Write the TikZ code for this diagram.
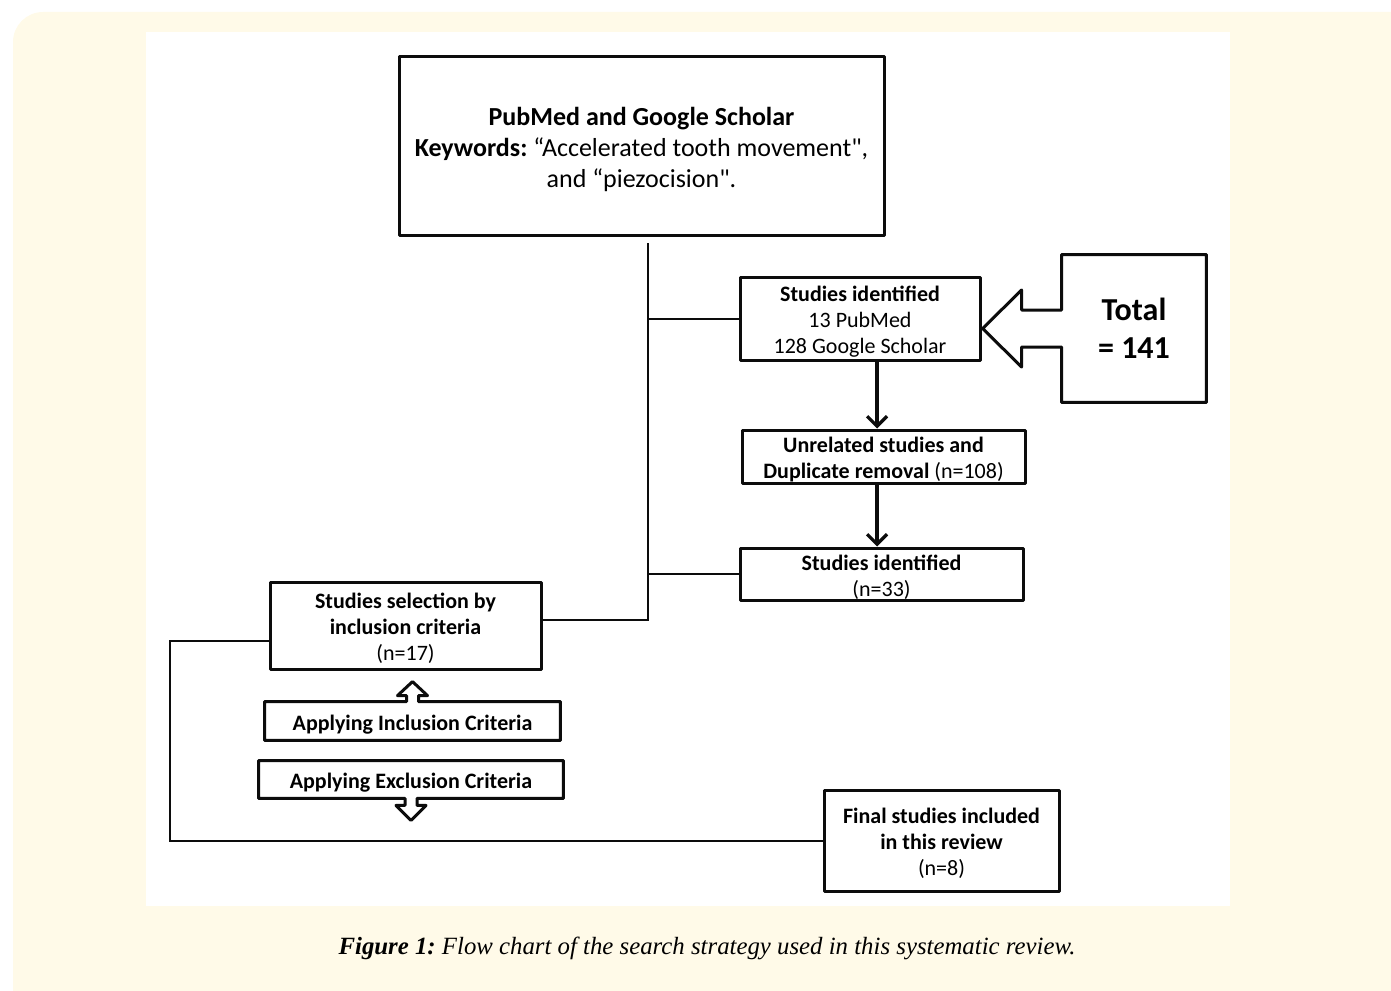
\documentclass[tikz,border=0pt]{standalone}
\usepackage{fontspec}
\setmainfont{Carlito}
\newfontfamily\rawfont{Carlito}[Ligatures=TeXOff]
\newfontfamily\captionfont{Liberation Serif}
\usetikzlibrary{arrows.meta,calc}
\definecolor{lineblack}{RGB}{12,12,12}
\definecolor{pagecream}{RGB}{255,250,232}
\newcommand{\toppad}{\rule{0pt}{1em}}
\newcommand{\dq}{{\rawfont"}}
\frenchspacing

\begin{document}
\begin{tikzpicture}[x=0.5pt,y=-0.5pt,
  boxline/.style={draw=lineblack,line width=1.5pt,line join=round},
  flowbox/.style={boxline,fill=white,align=center,inner sep=0pt,font=\fontsize{11}{13}\selectfont},
  bare/.style={align=center,inner sep=0pt,font=\fontsize{11}{13}\selectfont},
  link/.style={draw=lineblack,line width=1pt},
  flow/.style={draw=lineblack,line width=1.6pt,-{Straight Barb[length=5pt,width=10pt]}}]
\useasboundingbox (0,0) rectangle (1391,990);
% page and panel
\fill[pagecream,rounded corners=15pt] (13,12) rectangle (1440,1040);
\fill[white] (146,32) rectangle (1230,906);

% boxes
\node[flowbox,minimum width=242.5pt,minimum height=89pt,font=\fontsize{13}{15.5}\selectfont] (search) at (641.5,146)
  {\toppad\textbf{PubMed and Google Scholar}\\\textbf{Keywords:} “Accelerated tooth movement\dq,\\and “piezocision\dq.};
\node[flowbox,minimum width=120pt,minimum height=41.5pt] (ident) at (860,318.5)
  {\toppad\textbf{Studies identified}\\13 PubMed\\128 Google Scholar};
\node[flowbox,minimum width=141.5pt,minimum height=26.5pt] (unrel) at (883.5,456.5)
  {\toppad\textbf{Unrelated studies and}\\\textbf{Duplicate removal} (n=108)};
\node[flowbox,minimum width=141.5pt,minimum height=26pt] (ident2) at (881.5,574)
  {\toppad\textbf{Studies identified}\\(n=33)};
\node[flowbox,minimum width=135.5pt,minimum height=43.5pt] (select) at (405.5,625.5)
  {\toppad\textbf{Studies selection by}\\\textbf{inclusion criteria}\\(n=17)};
\node[bare,minimum width=147.5pt,minimum height=19pt] (incl) at (412.5,721)
  {\toppad\textbf{Applying Inclusion Criteria}};
\node[bare,minimum width=152pt,minimum height=18.5pt] (excl) at (411,779.5)
  {\toppad\textbf{Applying Exclusion Criteria}};
\node[flowbox,minimum width=117.5pt,minimum height=50.5pt] (final) at (941.5,840.5)
  {\toppad\textbf{Final studies included}\\\textbf{in this review}\\(n=8)};
\node[bare,minimum width=72pt,minimum height=73.5pt,font=\fontsize{16}{19}\selectfont\bfseries] (total) at (1134,328.5)
  {Total\\= 141};

% outlines with block arrows
\draw[boxline] (incl.north west) -- ($(incl.north)+(-6,0)$) -- ++(0,-6) -- ++(-9,0) -- ++(15,-14)
  -- ++(15,14) -- ++(-9,0) -- ++(0,6) -- (incl.north east) -- (incl.south east) -- (incl.south west) -- cycle;
\draw[boxline] (excl.south west) -- (excl.north west) -- (excl.north east) -- (excl.south east)
  -- ($(excl.south)+(6,0)$) -- ++(0,7) -- ++(9,0) -- ++(-15,15) -- ++(-15,-15) -- ++(9,0) -- ++(0,-7) -- cycle;
\draw[boxline] ($(total.west)+(0,-18.5)$) -- (total.north west) -- (total.north east) -- (total.south east)
  -- (total.south west) -- ($(total.west)+(0,18.5)$) -- ++(-40,0) -- ++(0,20) -- ($(total.west)+(-79,0)$)
  -- ($(total.west)+(-40,-38.5)$) -- ++(0,20) -- cycle;

% connectors
\coordinate (trunktop) at (648,243);
\coordinate (trunkbot) at (648,620);
\coordinate (spine) at (877,0);
\coordinate (loopx) at (170,641);
\draw[link] (trunktop) -- (trunkbot) -- (select.east |- trunkbot);
\draw[link] (ident.west -| trunktop) -- (ident.west);
\draw[link] (ident2.west -| trunktop) -- (ident2.west);
\draw[flow] (ident.south -| spine) -- (unrel.north -| spine);
\draw[flow] (unrel.south -| spine) -- (ident2.north -| spine);
\draw[link] (select.west |- loopx) -- (loopx) |- (final.west);

% caption
\node[font=\captionfont\fontsize{12.4}{14}\selectfont\itshape] (caption) at (707,948)
  {\textbf{Figure 1:} Flow chart of the search strategy used in this systematic review.};
\end{tikzpicture}
\end{document}
